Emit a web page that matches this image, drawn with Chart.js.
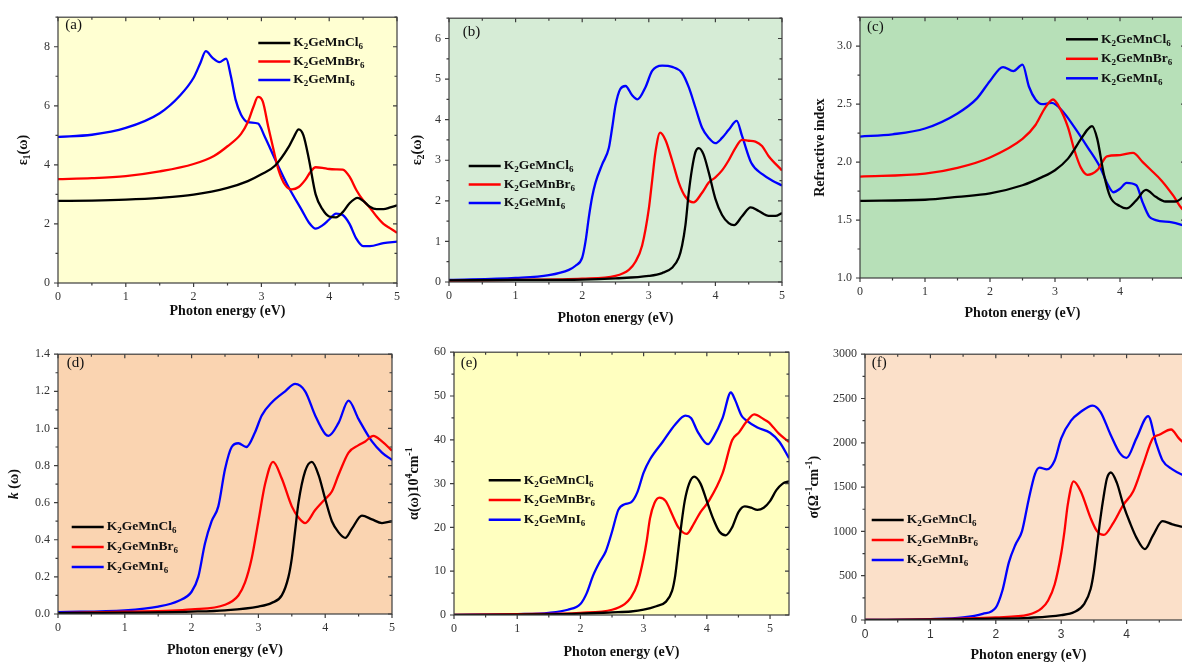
<!DOCTYPE html>
<html>
<head>
<meta charset="utf-8">
<script src="https://cdn.jsdelivr.net/npm/chart.js@4"></script>
<style>
  html, body { margin: 0; padding: 0; background: #fff; overflow: hidden; width: 1182px; height: 662px; }
  canvas { position: absolute; }
</style>
</head>
<body>
<script>
// ---- values (photon energy in eV) ----

// (a) real part of dielectric function
const e1ClX = [0,0.5,1,1.5,2,2.5,2.8,3,3.2,3.4,3.48,3.55,3.62,3.7,3.8,3.9,4,4.1,4.2,4.3,4.42,4.5,4.6,4.7,4.8,4.9,5];
const e1ClY = [2.78,2.79,2.82,2.88,2.99,3.22,3.45,3.68,3.97,4.6,4.95,5.2,5.0,4.2,3.0,2.5,2.25,2.22,2.4,2.7,2.88,2.78,2.58,2.5,2.5,2.56,2.63];
const e1BrX = [0,0.5,1,1.5,2,2.3,2.5,2.7,2.8,2.88,2.95,3.02,3.1,3.18,3.25,3.35,3.45,3.55,3.65,3.72,3.8,3.9,4,4.1,4.2,4.3,4.4,4.5,4.6,4.7,4.8,4.9,5];
const e1BrY = [3.52,3.55,3.62,3.78,4.03,4.3,4.63,5.05,5.45,5.95,6.3,6.15,5.3,4.5,3.85,3.32,3.17,3.25,3.5,3.75,3.92,3.9,3.86,3.85,3.84,3.6,3.15,2.8,2.55,2.25,2.0,1.85,1.7];
const e1IX = [0,0.5,1,1.5,1.8,2,2.1,2.18,2.28,2.38,2.48,2.55,2.62,2.7,2.8,2.95,3.05,3.22,3.4,3.6,3.7,3.8,3.9,4,4.1,4.2,4.3,4.4,4.5,4.6,4.8,5];
const e1IY = [4.95,5.02,5.25,5.75,6.35,6.95,7.45,7.85,7.62,7.48,7.6,7.0,6.2,5.7,5.45,5.4,4.95,4.1,3.25,2.45,2.05,1.84,1.95,2.15,2.35,2.3,2.0,1.5,1.25,1.25,1.35,1.4];

// (b) imaginary part of dielectric function
const e2ClX = [0,1,2,2.5,3,3.2,3.35,3.45,3.5,3.55,3.6,3.65,3.7,3.75,3.82,3.9,4,4.1,4.2,4.28,4.4,4.53,4.65,4.8,4.9,5];
const e2ClY = [0.04,0.05,0.06,0.09,0.15,0.22,0.35,0.6,0.9,1.4,2.2,2.8,3.2,3.3,3.15,2.7,2.05,1.65,1.45,1.4,1.62,1.84,1.75,1.63,1.63,1.7];
const e2BrX = [0,1,2,2.5,2.7,2.8,2.9,3,3.05,3.1,3.17,3.25,3.35,3.45,3.55,3.67,3.8,3.9,4,4.1,4.2,4.3,4.4,4.5,4.6,4.7,4.8,5];
const e2BrY = [0.03,0.05,0.08,0.15,0.3,0.5,0.9,1.8,2.5,3.2,3.68,3.5,3.0,2.45,2.1,1.96,2.2,2.45,2.58,2.75,3.0,3.3,3.5,3.48,3.46,3.35,3.1,2.75];
const e2IX = [0,1,1.5,1.8,1.9,2,2.05,2.1,2.15,2.2,2.3,2.4,2.45,2.5,2.57,2.65,2.75,2.83,2.95,3.05,3.2,3.35,3.5,3.6,3.7,3.8,3.9,4,4.1,4.2,4.32,4.4,4.54,4.71,4.85,5];
const e2IY = [0.05,0.1,0.17,0.3,0.4,0.6,1.0,1.6,2.1,2.45,2.9,3.3,3.8,4.35,4.75,4.83,4.6,4.5,4.8,5.2,5.33,5.3,5.15,4.8,4.3,3.8,3.55,3.42,3.55,3.75,3.97,3.6,2.93,2.65,2.5,2.38];

// (c) refractive index
const nClX = [0,1,1.5,2,2.5,2.8,3,3.2,3.4,3.5,3.57,3.65,3.75,3.85,4,4.1,4.25,4.4,4.55,4.7,4.85,5];
const nClY = [1.665,1.675,1.7,1.73,1.8,1.87,1.93,2.03,2.2,2.28,2.31,2.2,1.9,1.7,1.62,1.6,1.67,1.76,1.7,1.66,1.66,1.71];
const nBrX = [0,1,1.5,2,2.5,2.7,2.85,2.97,3.07,3.2,3.3,3.4,3.5,3.65,3.8,4,4.2,4.35,4.46,4.64,4.82,4.95,5];
const nBrY = [1.875,1.9,1.95,2.04,2.2,2.32,2.47,2.54,2.47,2.3,2.1,1.95,1.89,1.93,2.05,2.06,2.08,2.0,1.94,1.84,1.71,1.6,1.58];
const nIX = [0,0.5,1,1.5,1.8,2,2.2,2.36,2.5,2.6,2.7,2.8,2.95,3.1,3.3,3.5,3.7,3.8,3.9,4,4.1,4.25,4.35,4.45,4.55,4.8,5];
const nIY = [2.22,2.24,2.29,2.42,2.55,2.7,2.82,2.785,2.84,2.65,2.54,2.5,2.51,2.45,2.3,2.13,1.95,1.82,1.74,1.77,1.82,1.8,1.65,1.53,1.5,1.48,1.45];

// (d) extinction coefficient
const kClX = [0,1,2,2.5,3,3.2,3.35,3.45,3.5,3.55,3.6,3.7,3.8,3.9,4,4.1,4.2,4.3,4.4,4.55,4.7,4.85,5];
const kClY = [0.005,0.007,0.013,0.02,0.04,0.06,0.1,0.2,0.3,0.45,0.6,0.77,0.82,0.75,0.62,0.5,0.44,0.41,0.46,0.53,0.51,0.49,0.5];
const kBrX = [0,1,2,2.5,2.7,2.8,2.9,3,3.1,3.22,3.35,3.5,3.6,3.7,3.85,4,4.1,4.2,4.35,4.5,4.6,4.72,4.85,5];
const kBrY = [0.005,0.012,0.025,0.05,0.1,0.17,0.3,0.5,0.7,0.82,0.73,0.58,0.52,0.49,0.56,0.62,0.66,0.75,0.87,0.91,0.93,0.96,0.93,0.88];
const kIX = [0,1,1.5,1.8,2,2.1,2.2,2.3,2.4,2.5,2.6,2.7,2.82,2.95,3.05,3.2,3.4,3.55,3.7,3.85,4,4.05,4.2,4.35,4.5,4.7,4.85,5];
const kIY = [0.01,0.02,0.04,0.07,0.12,0.2,0.38,0.5,0.58,0.78,0.9,0.92,0.9,0.98,1.07,1.14,1.2,1.24,1.2,1.07,0.97,0.96,1.03,1.15,1.05,0.93,0.87,0.83];

// (e) absorption coefficient
const aClX = [0,1,2,2.5,2.8,3,3.2,3.35,3.45,3.5,3.55,3.6,3.65,3.72,3.8,3.9,4,4.1,4.2,4.3,4.4,4.5,4.6,4.7,4.8,4.9,5,5.1,5.2,5.3];
const aClY = [0,0.1,0.3,0.6,0.8,1.2,2,3,5.5,9,15,21,26,30,31.6,30,26,22,19,18.2,20,23.5,24.8,24.5,24,24.5,26,28.5,30,30.5];
const aBrX = [0,1,2,2.5,2.7,2.8,2.9,3,3.05,3.1,3.17,3.25,3.35,3.45,3.55,3.68,3.8,3.9,4.03,4.25,4.4,4.51,4.62,4.75,4.9,4.98,5.14,5.3];
const aBrY = [0,0.2,0.5,1.2,2.5,4,7,13,17,22,25.5,26.8,26,23,20,18.5,21,23.5,26,32.4,39.9,41.7,44,45.8,44.7,44,41.4,39.5];
const aIX = [0,1,1.5,1.8,2,2.1,2.2,2.3,2.4,2.5,2.6,2.7,2.8,2.9,3,3.1,3.3,3.5,3.66,3.75,3.85,4.02,4.1,4.25,4.38,4.45,4.55,4.62,4.8,5,5.15,5.3];
const aIY = [0,0.2,0.5,1.2,2.5,5,9,12,14.5,19,24,25.3,25.7,28,32.5,35.5,39.5,43.5,45.5,45,42,39,40.5,45,50.8,49,45.5,44.5,42.8,41.6,39.5,35.8];

// (f) optical conductivity
const sClX = [0,1,2,2.5,3,3.2,3.35,3.45,3.5,3.55,3.6,3.65,3.7,3.76,3.85,3.95,4.05,4.15,4.28,4.4,4.55,4.7,4.9,5];
const sClY = [0,5,15,25,55,90,180,350,550,850,1150,1400,1600,1665,1550,1300,1100,930,800,950,1115,1080,1050,1060];
const sBrX = [0,1,2,2.5,2.7,2.8,2.9,3,3.05,3.1,3.19,3.3,3.45,3.55,3.65,3.8,3.95,4.1,4.25,4.4,4.5,4.68,4.8,4.9,5];
const sBrY = [0,8,30,60,130,220,400,750,1000,1300,1565,1450,1150,1000,960,1100,1300,1450,1750,2050,2090,2150,2050,1980,1900];
const sIX = [0,1,1.5,1.8,2,2.1,2.2,2.3,2.4,2.5,2.6,2.67,2.78,2.9,3,3.15,3.3,3.48,3.6,3.75,3.9,4,4.15,4.33,4.45,4.55,4.7,4.85,5];
const sIY = [0,10,30,70,140,330,650,850,1000,1350,1650,1720,1700,1800,2050,2250,2350,2420,2350,2100,1880,1830,2050,2300,2000,1800,1700,1640,1600];

// legend names, split for the subscripts
const compounds = [
  [['K',''],['2','sub'],['GeMnCl',''],['6','sub']],
  [['K',''],['2','sub'],['GeMnBr',''],['6','sub']],
  [['K',''],['2','sub'],['GeMnI',''],['6','sub']]
];
const colors = ['#000000', '#ff0000', '#0000ff'];

const SERIF = '"Liberation Serif", "Times New Roman", serif';
const YL = 62, PT = 10, PR = 12, XB = 52;

// panel layout: plot rectangles in page pixels
const panels = [
  { tag:'(a)', rect:[57.7,12,396.7,283], xr:[0,5], yr:[0,9,2], bg:'#ffffd2',
    series:[[e1ClX,e1ClY],[e1BrX,e1BrY],[e1IX,e1IY]],
    yTitle:[['ε',''],['1','sub'],['(ω)','']], yTitleX:23, xTitleY:311,
    tagPos:[65,25], leg:[258,43,18.5] },
  { tag:'(b)', rect:[449.3,13,782.7,281.7], xr:[0,5], yr:[0,6.5,1], bg:'#d6ecd6',
    series:[[e2ClX,e2ClY],[e2BrX,e2BrY],[e2IX,e2IY]],
    yTitle:[['ε',''],['2','sub'],['(ω)','']], yTitleX:418, xTitleY:318,
    tagPos:[463,32], leg:[469,166,18.5] },
  { tag:'(c)', rect:[860,11.7,1185,277.3], xr:[0,5], yr:[1,3.25,0.5], bg:'#b7e0b8', dec:1,
    series:[[nClX,nClY],[nBrX,nBrY],[nIX,nIY]],
    yTitle:[['Refractive index','']], yTitleX:820, xTitleY:313,
    tagPos:[867,27], leg:[1066,39,19.5] },
  { tag:'(d)', rect:[58.3,349,392.7,614.3], xr:[0,5], yr:[0,1.4,0.2], bg:'#fad4b1', dec:1,
    series:[[kClX,kClY],[kBrX,kBrY],[kIX,kIY]],
    yTitle:[['k','i'],[' (ω)','']], yTitleX:15, xTitleY:650,
    tagPos:[67,363], leg:[72,527,20] },
  { tag:'(e)', rect:[454.3,346.7,789.3,615], xr:[0,5.3], yr:[0,60,10], bg:'#ffffc0',
    series:[[aClX,aClY],[aBrX,aBrY],[aIX,aIY]],
    yTitle:[['α(ω)10',''],['4','sup'],['cm',''],['-1','sup']], yTitleX:415, xTitleY:652,
    tagPos:[461,363], leg:[489,480,19.7] },
  { tag:'(f)', rect:[865.3,349,1191.8,619.7], xr:[0,5], yr:[0,3000,500], bg:'#fbe0c9', sansX:true,
    series:[[sClX,sClY],[sBrX,sBrY],[sIX,sIY]],
    yTitle:[['σ(Ω',''],['-1','sup'],['cm',''],['-1','sup'],[')','']], yTitleX:815, xTitleY:655,
    tagPos:[872,363], leg:[872,520,20] }
];

function partFont(kind, size) {
  if (kind === 'sub' || kind === 'sup') return 'bold ' + Math.round(size * 0.7) + 'px ' + SERIF;
  if (kind === 'i') return 'italic bold ' + size + 'px ' + SERIF;
  return 'bold ' + size + 'px ' + SERIF;
}

function richWidth(ctx, parts, size) {
  let w = 0;
  parts.forEach(p => { ctx.font = partFont(p[1], size); w += ctx.measureText(p[0]).width; });
  return w;
}

function drawRich(ctx, parts, x, y, size) {
  ctx.textBaseline = 'middle';
  ctx.textAlign = 'left';
  parts.forEach(p => {
    ctx.font = partFont(p[1], size);
    let dy = 0;
    if (p[1] === 'sub') dy = size * 0.3;
    if (p[1] === 'sup') dy = -size * 0.35;
    ctx.fillText(p[0], x, y + dy);
    x += ctx.measureText(p[0]).width;
  });
}

function minorValues(scale) {
  const majors = scale.ticks.map(t => t.value);
  const step = majors[1] - majors[0];
  const out = [];
  for (let v = scale.min; v <= scale.max + 1e-9; v += step / 2) {
    const isMajor = majors.some(m => Math.abs(m - v) < 1e-9);
    out.push([v, isMajor]);
  }
  return out;
}

const decoPlugin = {
  id: 'deco',
  beforeDraw(chart, args, opts) {
    const a = chart.chartArea, ctx = chart.ctx;
    ctx.save();
    ctx.fillStyle = opts.bg;
    ctx.fillRect(a.left, a.top, a.right - a.left, a.bottom - a.top);
    ctx.restore();
  },
  afterDatasetsDraw(chart, args, opts) {
    const a = chart.chartArea, ctx = chart.ctx;
    const ox = opts.rect[0] - YL, oy = opts.rect[1] - PT;
    ctx.save();
    // frame
    ctx.strokeStyle = '#3c3c3c';
    ctx.lineWidth = 1.2;
    ctx.strokeRect(a.left, a.top, a.right - a.left, a.bottom - a.top);
    // tick marks on all four sides
    const xs = chart.scales.x, ys = chart.scales.y;
    ctx.beginPath();
    minorValues(xs).forEach(([v, major]) => {
      const px = xs.getPixelForValue(v), len = major ? 4 : 2.5;
      ctx.moveTo(px, a.bottom); ctx.lineTo(px, a.bottom + len);
      ctx.moveTo(px, a.top); ctx.lineTo(px, a.top + len);
    });
    minorValues(ys).forEach(([v, major]) => {
      const py = ys.getPixelForValue(v), len = major ? 4 : 2.5;
      ctx.moveTo(a.left, py); ctx.lineTo(a.left - len, py);
      ctx.moveTo(a.right, py); ctx.lineTo(a.right - len, py);
    });
    ctx.stroke();

    ctx.fillStyle = '#111';
    // panel tag
    ctx.font = '15px ' + SERIF;
    ctx.textAlign = 'left';
    ctx.textBaseline = 'middle';
    ctx.fillText(opts.tag, opts.tagPos[0] - ox, opts.tagPos[1] - oy);

    // x title
    ctx.font = 'bold 14px ' + SERIF;
    ctx.textAlign = 'center';
    ctx.fillText('Photon energy (eV)', (a.left + a.right) / 2, opts.xTitleY - oy);

    // y title, rotated
    const w = richWidth(ctx, opts.yTitle, 14);
    ctx.save();
    ctx.translate(opts.yTitleX - ox, (a.top + a.bottom) / 2);
    ctx.rotate(-Math.PI / 2);
    drawRich(ctx, opts.yTitle, -w / 2, 0, 14);
    ctx.restore();

    // legend
    const [lx, ly, gap] = opts.leg;
    compounds.forEach((parts, i) => {
      const y = ly + i * gap - oy, x = lx - ox;
      ctx.strokeStyle = colors[i];
      ctx.lineWidth = 2.5;
      ctx.beginPath();
      ctx.moveTo(x, y); ctx.lineTo(x + 32, y);
      ctx.stroke();
      ctx.fillStyle = '#111';
      drawRich(ctx, parts, x + 35, y, 13.5);
    });
    ctx.restore();
  }
};

panels.forEach(p => {
  const [l, t, r, b] = p.rect;
  const canvas = document.createElement('canvas');
  canvas.width = Math.round(r - l + YL + PR);
  canvas.height = Math.round(b - t + PT + XB);
  canvas.style.left = (l - YL) + 'px';
  canvas.style.top = (t - PT) + 'px';
  document.body.appendChild(canvas);

  const datasets = p.series.map((s, i) => ({
    data: s[0].map((x, j) => ({ x: x, y: s[1][j] })),
    borderColor: colors[i],
    borderWidth: 2.3,
    pointRadius: 0,
    cubicInterpolationMode: 'monotone',
    fill: false
  }));

  const tickFont = { family: SERIF, size: 12 };
  new Chart(canvas, {
    type: 'line',
    data: { datasets: datasets },
    plugins: [decoPlugin],
    options: {
      responsive: false,
      animation: false,
      layout: { padding: { top: PT, right: PR, left: 0, bottom: 0 } },
      plugins: {
        legend: { display: false },
        tooltip: { enabled: false },
        deco: Object.assign({}, p)
      },
      scales: {
        x: {
          type: 'linear', min: p.xr[0], max: p.xr[1],
          grid: { display: false, drawTicks: false },
          border: { display: false },
          ticks: {
            stepSize: 1, includeBounds: false, padding: 7, maxRotation: 0, autoSkip: false,
            color: '#333',
            font: p.sansX ? { family: '"Liberation Sans", Arial, sans-serif', size: 12 } : tickFont
          },
          afterFit: s => { s.height = XB; }
        },
        y: {
          type: 'linear', min: p.yr[0], max: p.yr[1],
          grid: { display: false, drawTicks: false },
          border: { display: false },
          ticks: {
            stepSize: p.yr[2], includeBounds: false, padding: 8, autoSkip: false,
            color: '#333', font: tickFont,
            callback: v => p.dec ? v.toFixed(p.dec) : v
          },
          afterFit: s => { s.width = YL; }
        }
      }
    }
  });
});
</script>
</body>
</html>
